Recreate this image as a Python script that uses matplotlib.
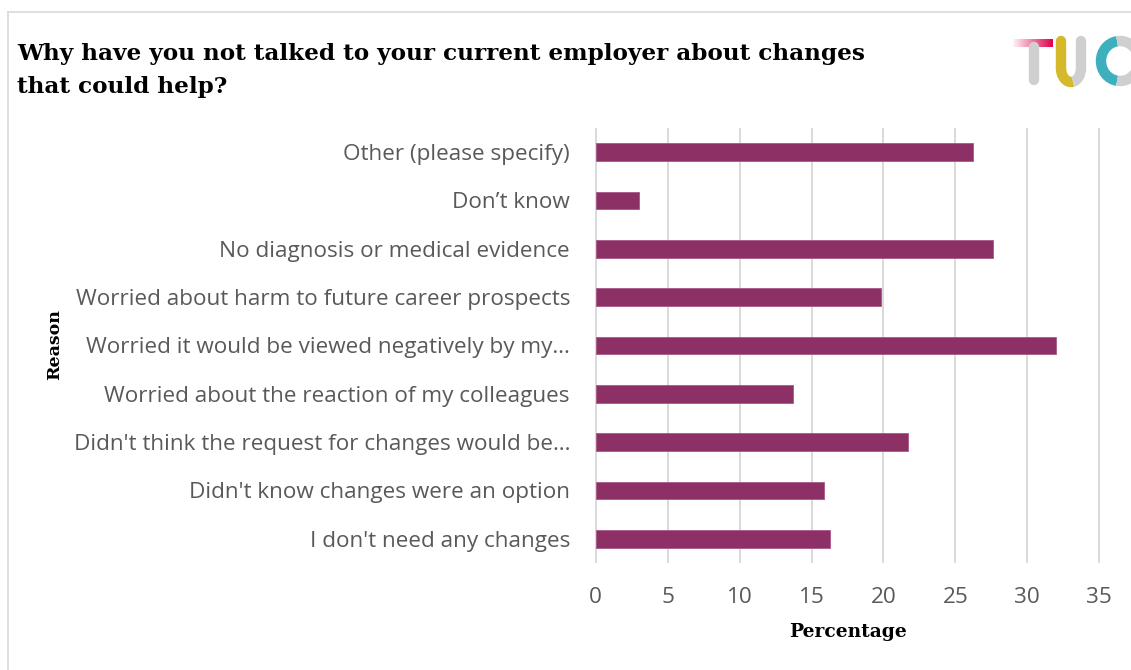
import numpy as np
import matplotlib.pyplot as plt
from matplotlib.lines import Line2D
from matplotlib.patches import Arc

# Survey answers, top to bottom as shown
reasons = [
    "Other (please specify)",
    "Don\u2019t know",
    "No diagnosis or medical evidence",
    "Worried about harm to future career prospects",
    "Worried it would be viewed negatively by my\u2026",
    "Worried about the reaction of my colleagues",
    "Didn't think the request for changes would be\u2026",
    "Didn't know changes were an option",
    "I don't need any changes",
]
percentages = [26.2, 3.0, 27.6, 19.8, 32.0, 13.7, 21.7, 15.9, 16.3]
x_ticks = [0, 5, 10, 15, 20, 25, 30, 35]

W, H = 1131, 670
BAR = "#8c3066"
GREY_TXT = "#595959"
SLAB = ["DejaVu Serif"]
SANS = ["Open Sans", "DejaVu Sans"]

fig = plt.figure(figsize=(W / 100, H / 100), dpi=100)


def px(x, y):
    # pixel position (from top-left) -> figure fraction
    return x / W, 1 - y / H


ax = fig.add_axes([595 / W, 1 - 563 / H, (1100 - 595) / W, (563 - 128) / H])
ypos = np.arange(len(reasons))
ax.barh(ypos, percentages, height=0.37, color=BAR, edgecolor="#a8588a",
        linewidth=0.6, zorder=3)
ax.set_ylim(len(reasons) - 0.5, -0.5)
ax.set_xlim(-0.05, 35.05)
ax.set_xticks(x_ticks)
ax.set_yticks(ypos)
ax.set_yticklabels(reasons, family=SANS, fontsize=16.2, color=GREY_TXT)
ax.set_xticklabels([str(t) for t in x_ticks], family=SANS, fontsize=16.2,
                   color=GREY_TXT)
ax.tick_params(axis="both", length=0)
ax.tick_params(axis="x", pad=17)
ax.tick_params(axis="y", pad=18)
ax.grid(axis="x", color="#d9d9d9", linewidth=1.4, zorder=0)
for s in ax.spines.values():
    s.set_visible(False)

# titles and axis captions
fig.text(*px(17, 54), "Why have you not talked to your current employer about changes",
         family=SLAB, weight="bold", fontsize=16.7, va="center", ha="left")
fig.text(*px(17, 87), "that could help?",
         family=SLAB, weight="bold", fontsize=16.7, va="center", ha="left")
fig.text(*px(55, 345), "Reason", family=SLAB, weight="bold", fontsize=12.5,
         rotation=90, va="center", ha="center")
fig.text(*px(848, 632), "Percentage", family=SLAB, weight="bold", fontsize=13.4,
         va="center", ha="center")

# frame around the chart
fig.add_artist(Line2D([7.5 / W, 1], [1 - 11.5 / H] * 2, color="#d9d9d9", lw=1.2))
fig.add_artist(Line2D([7.5 / W] * 2, [0, 1 - 11.5 / H], color="#d9d9d9", lw=1.2))

# TUC logo
lw = 7.5
fig.add_artist(Line2D([1034 / W, 1034 / W], [1 - 47 / H, 1 - 80 / H],
                      color="#cfcfcf", lw=lw, solid_capstyle="round"))
# red bar of the T, fading out to the left
red_ax = fig.add_axes([1013 / W, 1 - 47 / H, 40 / W, 8 / H])
ramp = np.linspace(0.05, 1.0, 64).reshape(1, -1)
red_ax.imshow(np.dstack([np.full_like(ramp, 0.88), np.zeros_like(ramp),
                         np.full_like(ramp, 0.30), ramp]),
              aspect="auto", interpolation="bilinear")
red_ax.set_axis_off()
fig.add_artist(Line2D([1061 / W, 1061 / W], [1 - 41 / H, 1 - 68 / H],
                      color="#d6b92a", lw=lw, solid_capstyle="round"))
fig.add_artist(Line2D([1081 / W, 1081 / W], [1 - 41 / H, 1 - 68 / H],
                      color="#cfcfcf", lw=lw, solid_capstyle="round"))
fig.add_artist(Arc(px(1071, 68), 20 / W, 28 / H, theta1=180, theta2=275,
                   color="#d6b92a", lw=lw, transform=fig.transFigure))
fig.add_artist(Arc(px(1071, 68), 20 / W, 28 / H, theta1=275, theta2=360,
                   color="#cfcfcf", lw=lw, transform=fig.transFigure))
fig.add_artist(Arc(px(1120, 61), 38 / W, 40 / H, theta1=95, theta2=265,
                   color="#3cb0bd", lw=lw, transform=fig.transFigure))
fig.add_artist(Arc(px(1120, 61), 38 / W, 40 / H, theta1=40, theta2=95,
                   color="#cfcfcf", lw=lw, transform=fig.transFigure))
fig.add_artist(Arc(px(1120, 61), 38 / W, 40 / H, theta1=265, theta2=320,
                   color="#cfcfcf", lw=lw, transform=fig.transFigure))

fig.savefig("out.png", dpi=100)
